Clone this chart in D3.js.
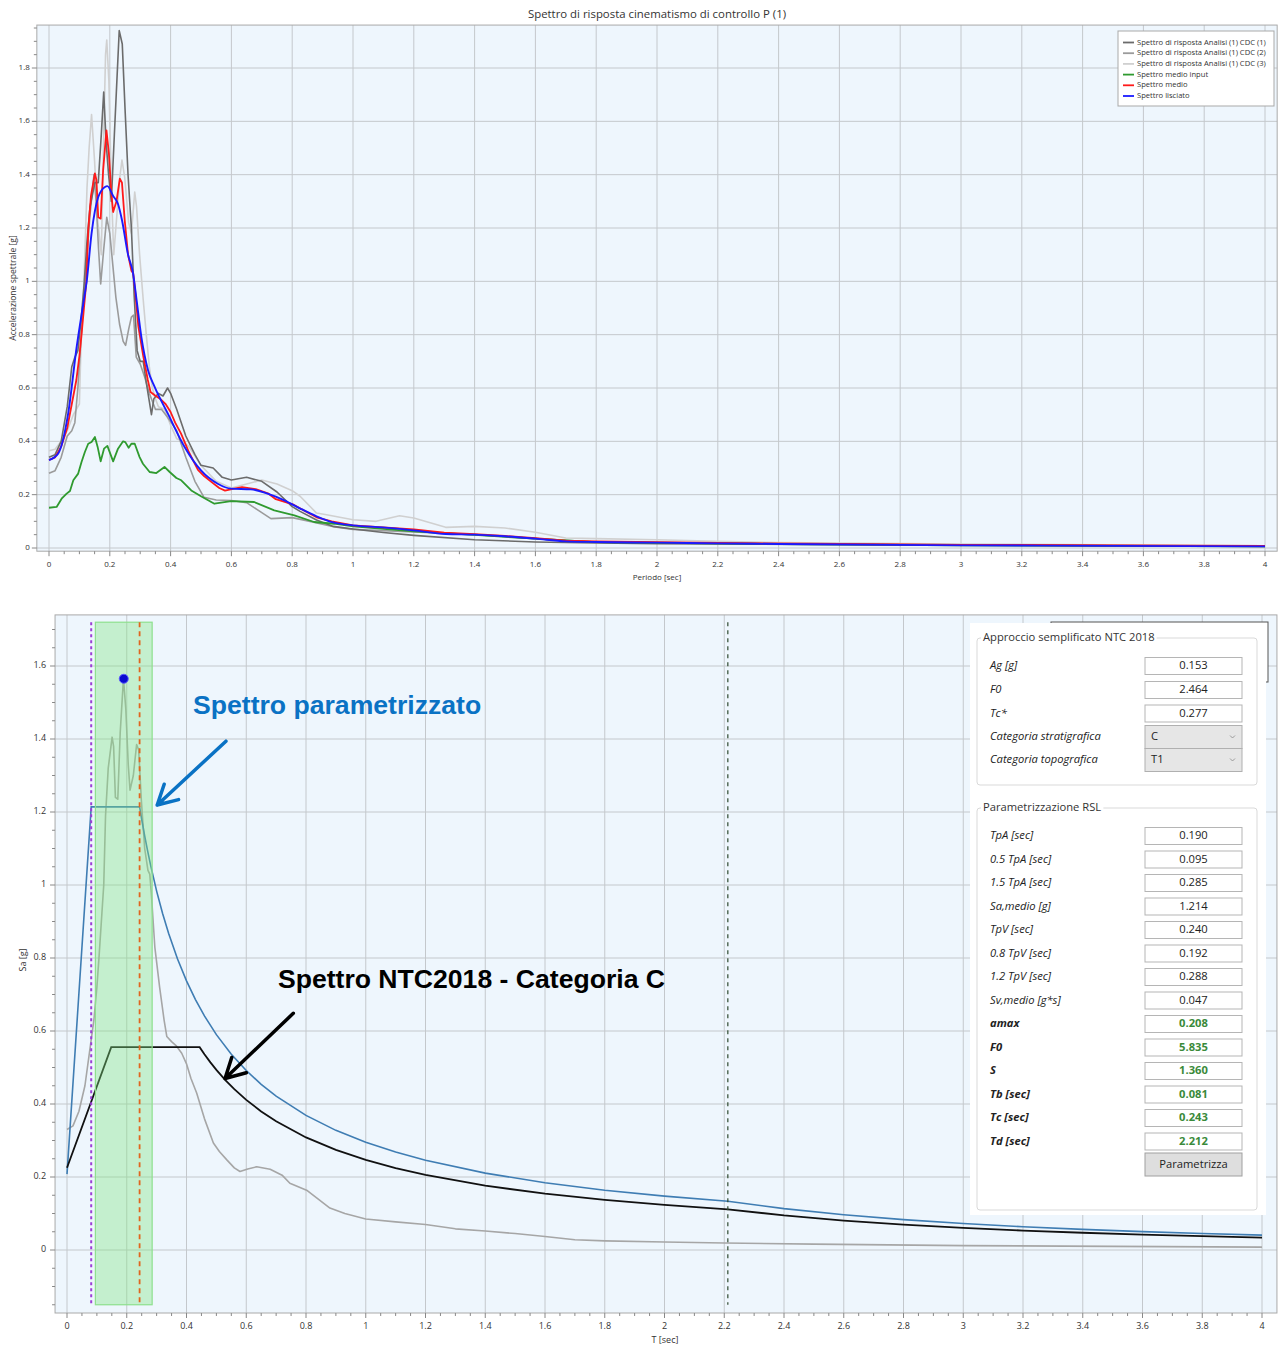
<!DOCTYPE html>
<html><head><meta charset="utf-8">
<script src="https://cdn.jsdelivr.net/npm/d3@7"></script>
<style>body{margin:0;background:#fff;} svg{display:block}</style>
</head><body>
<svg id="c" width="1279" height="1348"></svg>
<script>
// ---------------- DATA ----------------
const xTicks = [0,0.2,0.4,0.6,0.8,1,1.2,1.4,1.6,1.8,2,2.2,2.4,2.6,2.8,3,3.2,3.4,3.6,3.8,4];
const yTicksTop = [0,0.2,0.4,0.6,0.8,1,1.2,1.4,1.6,1.8];
const yTicksBottom = [0,0.2,0.4,0.6,0.8,1,1.2,1.4,1.6];

const topTitle = "Spettro di risposta cinematismo di controllo P (1)";
const legendNames = ["Spettro di risposta Analisi (1) CDC (1)","Spettro di risposta Analisi (1) CDC (2)","Spettro di risposta Analisi (1) CDC (3)","Spettro medio input","Spettro medio","Spettro lisciato"];
const legendColors = ["#6b6b6b","#9b9b9b","#d0d0d0","#2f9a2f","#ff1a1a","#1a1aff"];

// [T, Sa]
const cdc1 = [[0,0.34],[0.02,0.35],[0.04,0.40],[0.06,0.53],[0.075,0.68],[0.085,0.715],[0.095,0.74],[0.105,0.85],[0.115,0.98],[0.125,1.15],[0.135,1.28],[0.151,1.37],[0.162,1.37],[0.172,1.55],[0.18,1.71],[0.188,1.52],[0.196,1.40],[0.205,1.30],[0.215,1.55],[0.231,1.94],[0.241,1.89],[0.25,1.65],[0.26,1.40],[0.271,1.2],[0.28,0.95],[0.29,0.74],[0.30,0.70],[0.31,0.70],[0.32,0.62],[0.33,0.55],[0.337,0.50],[0.345,0.56],[0.36,0.58],[0.375,0.57],[0.39,0.60],[0.40,0.58],[0.42,0.52],[0.45,0.42],[0.48,0.35],[0.5,0.31],[0.54,0.30],[0.57,0.265],[0.6,0.255],[0.65,0.265],[0.7,0.25],[0.75,0.21],[0.8,0.155],[0.826,0.1375],[0.88,0.105],[0.935,0.081],[1.0,0.071],[1.1,0.058],[1.2,0.0475],[1.4,0.031],[1.6,0.0225],[1.8,0.019],[2.0,0.016],[2.5,0.013],[3.0,0.011],[4.0,0.006]];
const cdc2 = [[0,0.28],[0.02,0.29],[0.04,0.34],[0.06,0.42],[0.075,0.44],[0.085,0.47],[0.095,0.60],[0.105,0.78],[0.115,0.95],[0.125,1.10],[0.135,1.25],[0.148,1.40],[0.155,1.30],[0.163,1.12],[0.17,0.99],[0.18,1.12],[0.19,1.24],[0.2,1.18],[0.21,1.06],[0.22,0.94],[0.232,0.84],[0.244,0.775],[0.252,0.76],[0.262,0.82],[0.271,0.866],[0.278,0.873],[0.287,0.716],[0.3,0.69],[0.315,0.64],[0.33,0.58],[0.35,0.52],[0.37,0.52],[0.39,0.49],[0.42,0.44],[0.45,0.34],[0.48,0.25],[0.51,0.19],[0.55,0.18],[0.6,0.178],[0.65,0.17],[0.69,0.14],[0.73,0.11],[0.8,0.114],[0.87,0.097],[0.94,0.079],[1.0,0.07],[1.2,0.06],[1.4,0.05],[1.6,0.035],[1.8,0.022],[2.0,0.02],[2.5,0.015],[3.0,0.012],[4.0,0.007]];
const cdc3 = [[0,0.365],[0.02,0.37],[0.04,0.40],[0.06,0.44],[0.08,0.50],[0.09,0.52],[0.1,0.54],[0.105,0.75],[0.115,1.0],[0.125,1.35],[0.132,1.50],[0.14,1.625],[0.15,1.45],[0.16,1.23],[0.172,1.10],[0.18,1.55],[0.186,1.85],[0.19,1.905],[0.197,1.75],[0.205,1.35],[0.213,1.10],[0.222,1.23],[0.233,1.39],[0.24,1.455],[0.249,1.39],[0.262,1.22],[0.271,1.18],[0.282,1.335],[0.288,1.28],[0.298,1.10],[0.31,0.93],[0.32,0.80],[0.33,0.68],[0.34,0.60],[0.35,0.56],[0.36,0.53],[0.38,0.52],[0.40,0.46],[0.42,0.41],[0.44,0.40],[0.46,0.38],[0.5,0.31],[0.55,0.25],[0.6,0.225],[0.65,0.24],[0.7,0.255],[0.75,0.24],[0.8,0.215],[0.826,0.194],[0.88,0.131],[0.913,0.125],[1.0,0.106],[1.076,0.10],[1.153,0.121],[1.2,0.1125],[1.305,0.0775],[1.4,0.081],[1.5,0.075],[1.6,0.059],[1.7,0.0375],[1.8,0.035],[2.0,0.031],[2.2,0.025],[2.4,0.02],[3.0,0.015],[4.0,0.008]];
const medioInput = [[0,0.151],[0.025,0.154],[0.0415,0.185],[0.058,0.204],[0.069,0.214],[0.08,0.254],[0.096,0.279],[0.107,0.3225],[0.118,0.36],[0.129,0.391],[0.14,0.3975],[0.151,0.416],[0.16,0.379],[0.17,0.325],[0.181,0.3725],[0.192,0.383],[0.211,0.325],[0.227,0.3725],[0.2437,0.40],[0.251,0.397],[0.262,0.376],[0.271,0.391],[0.282,0.391],[0.298,0.341],[0.309,0.316],[0.331,0.285],[0.353,0.281],[0.38,0.304],[0.397,0.285],[0.419,0.2625],[0.435,0.254],[0.468,0.216],[0.5,0.194],[0.544,0.166],[0.599,0.176],[0.675,0.1725],[0.741,0.141],[0.807,0.1225],[0.872,0.0975],[0.938,0.091],[1.0,0.081],[1.2,0.0625],[1.4,0.049],[1.6,0.035],[1.8,0.022],[2.0,0.019],[2.4,0.015],[3.0,0.01],[4.0,0.006]];
const spettroMedio = [[0,0.33],[0.02,0.34],[0.04,0.38],[0.06,0.45],[0.075,0.54],[0.09,0.63],[0.1,0.72],[0.107,0.80],[0.115,0.90],[0.123,1.0],[0.129,1.19],[0.138,1.32],[0.151,1.405],[0.156,1.38],[0.162,1.24],[0.17,1.235],[0.178,1.416],[0.189,1.566],[0.197,1.48],[0.205,1.33],[0.211,1.26],[0.222,1.30],[0.233,1.385],[0.24,1.37],[0.249,1.23],[0.26,1.10],[0.271,1.04],[0.277,1.03],[0.282,0.98],[0.294,0.83],[0.31,0.72],[0.325,0.63],[0.334,0.585],[0.35,0.571],[0.365,0.56],[0.384,0.539],[0.40,0.51],[0.415,0.47],[0.434,0.43],[0.46,0.36],[0.49,0.293],[0.51,0.27],[0.535,0.247],[0.56,0.225],[0.579,0.215],[0.605,0.222],[0.635,0.228],[0.68,0.221],[0.72,0.205],[0.746,0.183],[0.802,0.164],[0.84,0.14],[0.88,0.115],[0.93,0.10],[1.0,0.085],[1.1,0.077],[1.2,0.07],[1.3,0.058],[1.4,0.052],[1.5,0.045],[1.6,0.037],[1.7,0.028],[1.8,0.025],[2.0,0.022],[2.2,0.019],[2.5,0.016],[3.0,0.012],[3.5,0.010],[4.0,0.008]];
const lisciato = [[0,0.33],[0.03,0.354],[0.063,0.504],[0.091,0.754],[0.116,0.94],[0.124,1.0],[0.14,1.18],[0.162,1.316],[0.184,1.354],[0.192,1.357],[0.211,1.32],[0.227,1.29],[0.24,1.23],[0.26,1.10],[0.2765,1.03],[0.287,0.94],[0.304,0.79],[0.326,0.666],[0.3475,0.604],[0.391,0.504],[0.446,0.379],[0.5,0.291],[0.555,0.241],[0.599,0.2225],[0.664,0.22],[0.719,0.204],[0.774,0.179],[0.828,0.147],[0.88,0.119],[0.935,0.096],[1.0,0.085],[1.098,0.0775],[1.2,0.066],[1.305,0.0525],[1.4,0.05],[1.5,0.044],[1.6,0.035],[1.7,0.025],[1.8,0.0225],[2.0,0.02],[2.2,0.0175],[2.4,0.015],[3.0,0.01],[3.5,0.008],[4.0,0.006]];

// bottom chart
const spettroParam = [[0,0.208],[0.081,1.214],[0.243,1.214],[0.25,1.180],[0.26,1.1346],[0.27,1.0926],[0.28,1.0536],[0.30,0.9833],[0.32,0.9219],[0.34,0.8676],[0.37,0.7973],[0.40,0.7375],[0.43,0.6860],[0.46,0.6413],[0.50,0.590],[0.55,0.5364],[0.60,0.4917],[0.65,0.4538],[0.70,0.4214],[0.80,0.3688],[0.90,0.3278],[1.0,0.295],[1.1,0.2682],[1.2,0.2458],[1.4,0.2107],[1.6,0.1844],[1.8,0.1639],[2.0,0.1475],[2.212,0.1334],[2.4,0.1133],[2.6,0.0965],[2.8,0.0832],[3.0,0.0725],[3.2,0.0637],[3.4,0.0564],[3.6,0.0504],[3.8,0.0452],[4.0,0.0408]];
const spettroNTC = [[0,0.2255],[0.148,0.5557],[0.444,0.5557],[0.46,0.5364],[0.48,0.5140],[0.5,0.4935],[0.53,0.4655],[0.56,0.4406],[0.6,0.4112],[0.65,0.3796],[0.7,0.3525],[0.8,0.3084],[0.9,0.2741],[1.0,0.2467],[1.1,0.2243],[1.2,0.2056],[1.4,0.1762],[1.6,0.1542],[1.8,0.1371],[2.0,0.1234],[2.212,0.1115],[2.4,0.0948],[2.6,0.0807],[2.8,0.0696],[3.0,0.0606],[3.2,0.0533],[3.4,0.0472],[3.6,0.0421],[3.8,0.0378],[4.0,0.0341]];
const peakPoint = [0.19, 1.565];
const bandT = [0.095, 0.285];
const bandSa = [-0.15, 1.72];
const Tb = 0.081, Tc = 0.243, Td = 2.212;

const group1Labels = ["Ag [g]","F0","Tc*","Categoria stratigrafica","Categoria topografica"];
const group1Values = ["0.153","2.464","0.277","C","T1"];
const group2Labels = ["TpA [sec]","0.5 TpA [sec]","1.5 TpA [sec]","Sa,medio [g]","TpV [sec]","0.8 TpV [sec]","1.2 TpV [sec]","Sv,medio [g*s]","amax","F0","S","Tb [sec]","Tc [sec]","Td [sec]"];
const group2Values = ["0.190","0.095","0.285","1.214","0.240","0.192","0.288","0.047","0.208","5.835","1.360","0.081","0.243","2.212"];

// ---------------- DRAW ----------------
const svg = d3.select("#c");
const FONT = "'Open Sans', 'Noto Sans', sans-serif";
const fmt = d => String(+d.toFixed(2));

function frame(x, y, xr, yr, yT, o) {
  const g = svg.append("g");
  const X0 = x(xr[0]), X1 = x(xr[1]), Y0 = y(yr[1]), Y1 = y(yr[0]);
  g.append("rect").attr("x",X0).attr("y",Y0).attr("width",X1-X0).attr("height",Y1-Y0).attr("fill","#eef6fd");
  g.append("g").selectAll("line").data(xTicks).join("line")
    .attr("x1",d=>x(d)).attr("x2",d=>x(d)).attr("y1",Y0).attr("y2",Y1)
    .attr("stroke","#c4c8cc").attr("stroke-width",1);
  g.append("g").selectAll("line").data(yT).join("line")
    .attr("x1",X0).attr("x2",X1).attr("y1",d=>y(d)).attr("y2",d=>y(d))
    .attr("stroke","#c4c8cc").attr("stroke-width",1);
  g.append("rect").attr("x",X0).attr("y",Y0).attr("width",X1-X0).attr("height",Y1-Y0)
    .attr("fill","none").attr("stroke","#a9a9a9").attr("stroke-width",1);
  const minX = d3.range(0, 4.0001, 0.05);
  g.append("g").selectAll("line").data(minX).join("line")
    .attr("x1",d=>x(d)).attr("x2",d=>x(d)).attr("y1",Y1).attr("y2",d=> Math.abs(d*5-Math.round(d*5))<1e-6 ? Y1+5 : Y1+3)
    .attr("stroke","#888");
  const minY = d3.range(o.yMinorStart, yr[1], 0.05);
  g.append("g").selectAll("line").data(minY).join("line")
    .attr("y1",d=>y(d)).attr("y2",d=>y(d)).attr("x1",X0).attr("x2",d=> Math.abs(d*5-Math.round(d*5))<1e-6 ? X0-5 : X0-3)
    .attr("stroke","#888");
  g.append("g").selectAll("text").data(xTicks).join("text")
    .attr("x",d=>x(d)).attr("y",o.xLabY).attr("text-anchor","middle").attr("dominant-baseline","middle")
    .attr("font-family",FONT).attr("font-size",o.fs).attr("fill","#333").text(fmt);
  g.append("g").selectAll("text").data(yT).join("text")
    .attr("x",X0-o.yLabDx).attr("y",d=>y(d)).attr("text-anchor","end").attr("dominant-baseline","middle")
    .attr("font-family",FONT).attr("font-size",o.fs).attr("fill","#333").text(fmt);
  g.append("text").attr("x",o.xTitle[0]).attr("y",o.xTitle[1]).attr("text-anchor","middle").attr("dominant-baseline","middle")
    .attr("font-family",FONT).attr("font-size",o.fs).attr("fill","#333").text(o.xName);
  g.append("text").attr("transform",`translate(${o.yTitle[0]},${o.yTitle[1]}) rotate(-90)`).attr("text-anchor","middle").attr("dominant-baseline","middle")
    .attr("font-family",FONT).attr("font-size",o.yfs||o.fs).attr("fill","#333").text(o.yName);
}

// ---- top chart ----
const xT = d3.scaleLinear([0,4],[49,1265]);
const yT = d3.scaleLinear([0,1.8],[548,68]);
frame(xT, yT, [-0.04,4.04], [-0.012,1.961], yTicksTop, {fs:8, yfs:8.6, xLabY:565, yLabDx:7, yMinorStart:0, xTitle:[657,578], xName:"Periodo [sec]", yTitle:[14,288], yName:"Accelerazione spettrale [g]"});
svg.append("text").attr("x",657).attr("y",15).attr("text-anchor","middle").attr("dominant-baseline","middle")
  .attr("font-family",FONT).attr("font-size",11.4).attr("fill","#333").text(topTitle);

const lineT = d3.line().x(d=>xT(d[0])).y(d=>yT(d[1]));
const lineTs = d3.line().x(d=>xT(d[0])).y(d=>yT(d[1])).curve(d3.curveMonotoneX);
const topSeries = [cdc3, cdc2, cdc1, medioInput, spettroMedio, lisciato];
const topColors = [legendColors[2], legendColors[1], legendColors[0], legendColors[3], legendColors[4], legendColors[5]];
const topW = [1.6,1.6,1.6,1.8,1.8,1.9];
topSeries.forEach((s,i)=>{
  svg.append("path").attr("d", (i===5?lineTs:lineT)(s)).attr("fill","none")
    .attr("stroke",topColors[i]).attr("stroke-width",topW[i]).attr("stroke-linejoin","round");
});

// legend
const lg = svg.append("g");
lg.append("rect").attr("x",1118).attr("y",31).attr("width",156).attr("height",75).attr("fill","#fff").attr("stroke","#a9a9a9");
legendNames.forEach((n,i)=>{
  const yy = 42.5 + i*10.7;
  lg.append("line").attr("x1",1123).attr("x2",1134).attr("y1",yy).attr("y2",yy).attr("stroke",legendColors[i]).attr("stroke-width",1.8);
  lg.append("text").attr("x",1137).attr("y",yy).attr("dominant-baseline","middle").attr("font-family",FONT)
    .attr("font-size",7.6).attr("fill","#333").text(n);
});

// ---- bottom chart ----
const xB = d3.scaleLinear([0,4],[67,1262]);
const yB = d3.scaleLinear([0,1.6],[1250,666]);
frame(xB, yB, [-0.04,4.05], [-0.1726,1.74], yTicksBottom, {fs:9, xLabY:1327, yLabDx:9, yMinorStart:-0.15, xTitle:[665,1341], xName:"T [sec]", yTitle:[24,960], yName:"Sa [g]"});

const lineB = d3.line().x(d=>xB(d[0])).y(d=>yB(d[1]));
svg.append("path").attr("d",lineB(spettroMedio)).attr("fill","none").attr("stroke","#a6a6a6").attr("stroke-width",1.6).attr("stroke-linejoin","round");
svg.append("path").attr("d",lineB(spettroParam)).attr("fill","none").attr("stroke","#3f7db3").attr("stroke-width",1.6);
svg.append("path").attr("d",lineB(spettroNTC)).attr("fill","none").attr("stroke","#111").attr("stroke-width",1.8);

// band
svg.append("rect").attr("x",xB(bandT[0])).attr("y",yB(bandSa[1])).attr("width",xB(bandT[1])-xB(bandT[0])).attr("height",yB(bandSa[0])-yB(bandSa[1]))
  .attr("fill","rgba(130,230,130,0.38)").attr("stroke","#8ee08e").attr("stroke-width",1.2);

function vline(t, color, dash, w) {
  svg.append("line").attr("x1",xB(t)).attr("x2",xB(t)).attr("y1",yB(1.72)).attr("y2",yB(-0.15))
    .attr("stroke",color).attr("stroke-dasharray",dash).attr("stroke-width",w);
}
vline(Tb, "#9b3fd6", "3,3", 2);
vline(Tc, "#e0651e", "5,4", 1.8);
vline(Td, "#2f4a2f", "4,4", 1.2);

svg.append("circle").attr("cx",xB(peakPoint[0])).attr("cy",yB(peakPoint[1])).attr("r",4.5)
  .attr("fill","#0a0ad0").attr("stroke","#5a5aff").attr("stroke-width",1);

// annotations
function arrow(from, to, color) {
  const x1=xB(from[0]), y1=yB(from[1]), x2=xB(to[0]), y2=yB(to[1]);
  const a = Math.atan2(y2-y1, x2-x1), L=22, sp=0.5;
  const p = `M${x1},${y1}L${x2},${y2}M${x2-L*Math.cos(a-sp)},${y2-L*Math.sin(a-sp)}L${x2},${y2}L${x2-L*Math.cos(a+sp)},${y2-L*Math.sin(a+sp)}`;
  svg.append("path").attr("d",p).attr("fill","none").attr("stroke",color).attr("stroke-width",3.5).attr("stroke-linecap","round").attr("stroke-linejoin","round");
}
svg.append("text").attr("x",xB(0.4218)).attr("y",yB(1.468)).attr("font-family","'Liberation Sans', Arial, sans-serif")
  .attr("font-weight","bold").attr("font-size",26.6).attr("fill","#0a72c4").text("Spettro parametrizzato");
arrow([0.532,1.394],[0.302,1.219],"#0a72c4");
svg.append("text").attr("x",xB(0.706)).attr("y",yB(0.718)).attr("font-family","'Liberation Sans', Arial, sans-serif")
  .attr("font-weight","bold").attr("font-size",26.6).attr("fill","#000").text("Spettro NTC2018 - Categoria C");
arrow([0.7575,0.6485],[0.529,0.470],"#000");

// hidden legend box behind panel
svg.append("rect").attr("x",1051).attr("y",622).attr("width",217).attr("height",60).attr("fill","#fff").attr("stroke","#555").attr("stroke-width",1);

// ---- right panel ----
const PF = 11.2;
const P = svg.append("g");
P.append("rect").attr("x",970).attr("y",623).attr("width",296).attr("height",592).attr("fill","#fff");
function groupBox(x,y,w,h,title){
  P.append("rect").attr("x",x).attr("y",y).attr("width",w).attr("height",h).attr("rx",3)
    .attr("fill","none").attr("stroke","#d9d9d9");
  const t = P.append("text").attr("x",x+6).attr("y",y).attr("dominant-baseline","middle").attr("font-family",FONT)
    .attr("font-size",PF).attr("fill","#333").text(title);
  const bb = t.node().getBBox();
  P.insert("rect", function(){return t.node();}).attr("x",bb.x-2).attr("y",bb.y).attr("width",bb.width+4).attr("height",bb.height).attr("fill","#fff");
}
groupBox(977,638,280,147,"Approccio semplificato NTC 2018");
groupBox(977,808,280,402,"Parametrizzazione RSL");

function row(label, value, cy, opts) {
  P.append("text").attr("x",990).attr("y",cy).attr("dominant-baseline","middle").attr("font-family",FONT)
    .attr("font-size",PF).attr("font-style","italic").attr("font-weight",opts.bold?"bold":"normal").attr("fill","#222").text(label);
  if (opts.combo) {
    P.append("rect").attr("x",1145).attr("y",cy-11.5).attr("width",97).attr("height",23).attr("fill","#e6e6e6").attr("stroke","#b0b0b0");
    P.append("text").attr("x",1151).attr("y",cy).attr("dominant-baseline","middle").attr("font-family",FONT)
      .attr("font-size",PF).attr("fill","#222").text(value);
    P.append("path").attr("d",`M${1230},${cy-1.5}L${1232.5},${cy+1}L${1235},${cy-1.5}`).attr("fill","none").attr("stroke","#888").attr("stroke-width",0.8);
  } else {
    P.append("rect").attr("x",1145).attr("y",cy-8.5).attr("width",97).attr("height",17).attr("fill","#fff").attr("stroke","#b5b5b5");
    P.append("text").attr("x",1193.5).attr("y",cy).attr("text-anchor","middle").attr("dominant-baseline","middle").attr("font-family",FONT)
      .attr("font-size",PF).attr("font-weight",opts.green?"bold":"normal").attr("fill",opts.green?"#3a8a3a":"#222").text(value);
  }
}
const g1Y = [666,690,713.5,737,760];
group1Labels.forEach((l,i)=> row(l, group1Values[i], g1Y[i], {combo: i>=3}));
group2Labels.forEach((l,i)=> row(l, group2Values[i], 836 + i*23.5, {bold: i>=8, green: i>=8}));
P.append("rect").attr("x",1145).attr("y",1153).attr("width",97).attr("height",23).attr("fill","#dedede").attr("stroke","#a0a0a0");
P.append("text").attr("x",1193.5).attr("y",1164.5).attr("text-anchor","middle").attr("dominant-baseline","middle").attr("font-family",FONT)
  .attr("font-size",PF).attr("fill","#222").text("Parametrizza");
</script>
</body></html>
